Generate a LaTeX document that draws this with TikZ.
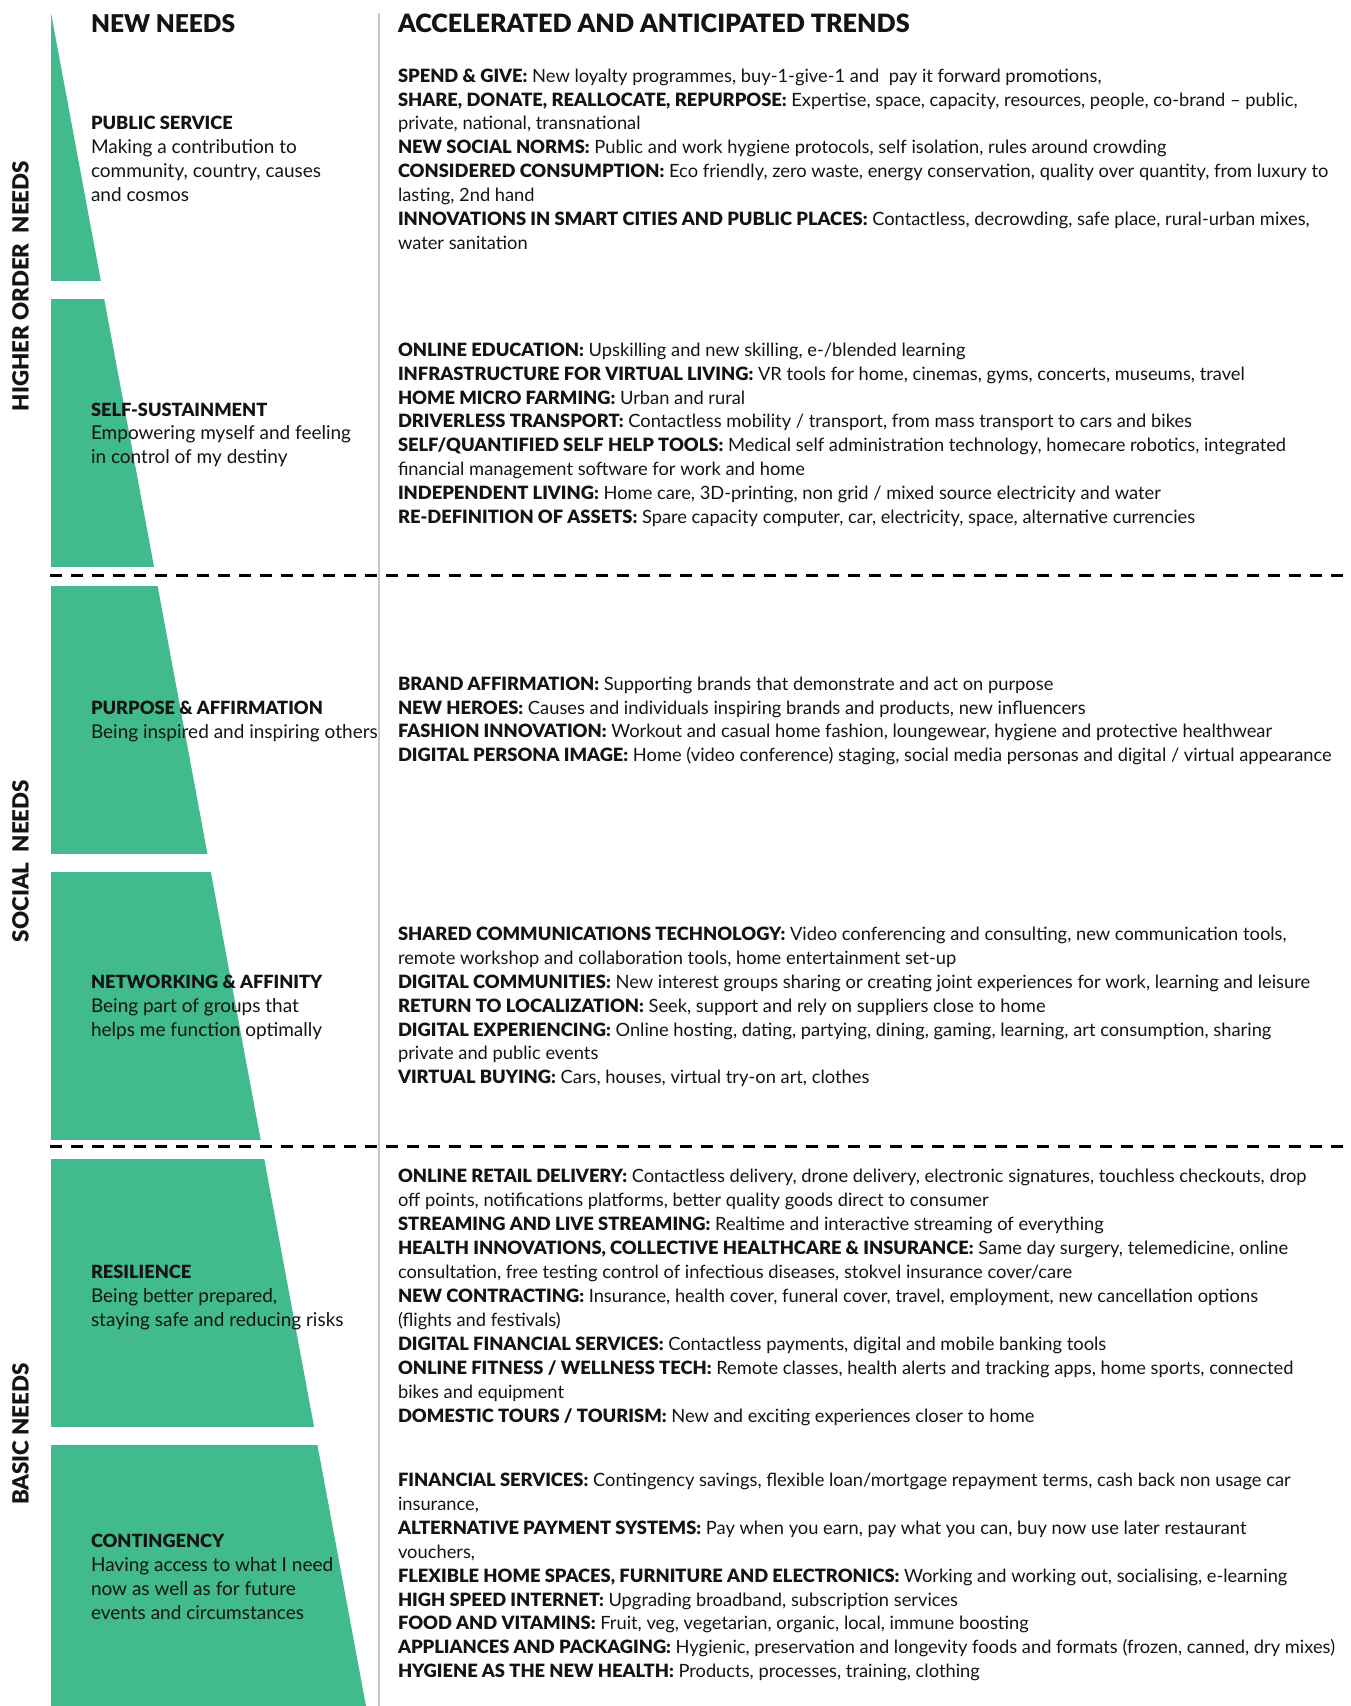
\documentclass[tikz,border=0pt]{standalone}
\usepackage{fontspec}
\setmainfont{Lato}[BoldFont={Lato Black}]
\definecolor{leaf}{HTML}{41BA8D}
\definecolor{ink}{HTML}{141414}
\definecolor{rule}{HTML}{C6C6C6}
% left-aligned stack of lines whose baseline is that of its first line
\newcommand{\linestack}[1]{\begin{tabular}[t]{@{}l@{}}#1\end{tabular}}
\begin{document}
\begin{tikzpicture}[x=1pt,y=-1pt,
  every node/.style={inner sep=0pt, outer sep=0pt, text=ink},
  head/.style={font=\fontsize{24.5}{30}\selectfont\bfseries, anchor=base west},
  side/.style={font=\fontsize{22.3}{28}\selectfont\bfseries, rotate=90},
  need/.style={font=\fontsize{19}{23.93}\selectfont, anchor=base west},
  needtitle/.style={font=\fontsize{18.4}{23.93}\selectfont\bfseries},
  trend/.style={font=\fontsize{18.3}{23.93}\selectfont, anchor=base west},
  divider/.style={line width=3pt, dash pattern=on 12pt off 9pt},
  column rule/.style={line width=2.5pt, draw=rule}]
\useasboundingbox (0,0) rectangle (1351,1706);
\fill[white] (0,0) rectangle (1351,1706);

% stepped wedge: one slanted edge cut into six blocks
\begin{scope}
  \clip (51,13) -- (366,1706) -- (51,1706) -- cycle;
  \foreach \k in {0,...,5}
    \fill[leaf] (40,{13+\k*286.4}) rectangle (400,{13+\k*286.4+268});
\end{scope}

% column rule and group dividers
\coordinate (ruletop) at (379,13);
\coordinate (rulebot) at (379,1706);
\draw[column rule] (ruletop) -- (rulebot);
\coordinate (d1a) at (50,575);   \coordinate (d1b) at (1345,575);
\coordinate (d2a) at (50,1146.5);\coordinate (d2b) at (1345,1146.5);
\draw[divider] (d1a) -- (d1b);
\draw[divider] (d2a) -- (d2b);

% headings
\node[head] (hneeds) at (91,32) {NEW NEEDS};
\node[head, font=\fontsize{25.2}{30}\selectfont\bfseries] (htrends) at (398,32) {ACCELERATED AND ANTICIPATED TRENDS};

% side labels
\node[side] (shigher) at (20.5,286) {HIGHER ORDER\ \ NEEDS};
\node[side] (ssocial) at (20.5,861) {SOCIAL\ \ NEEDS};
\node[side] (sbasic) at (20.5,1434) {BASIC NEEDS};

% needs
\newcommand{\needtitle}[1]{{\fontsize{18.2}{23.93}\selectfont\bfseries #1}}
\node[need] (n1) at (91,129.9) {\linestack{\needtitle{PUBLIC SERVICE}\\Making a contribution to\\community, country, causes\\and cosmos}};
\node[need] (n2) at (91,416) {\linestack{\needtitle{SELF-SUSTAINMENT}\\Empowering myself and feeling\\in control of my destiny}};
\node[need] (n3) at (91,714.1) {\linestack{\needtitle{PURPOSE \& AFFIRMATION}\\Being inspired and inspiring others}};
\node[need] (n4) at (91,988.2) {\linestack{\needtitle{NETWORKING \& AFFINITY}\\Being part of groups that\\helps me function optimally}};
\node[need] (n5) at (91,1278.6) {\linestack{\needtitle{RESILIENCE}\\Being better prepared,\\staying safe and reducing risks}};
\node[need] (n6) at (91,1547.3) {\linestack{\needtitle{CONTINGENCY}\\Having access to what I need\\now as well as for future\\events and circumstances}};

% trends
\node[trend] (t1) at (398,82.1) {\linestack{\textbf{SPEND \& GIVE:} New loyalty programmes, buy-1-give-1 and\ \ pay it forward promotions,\\
\textbf{SHARE, DONATE, REALLOCATE, REPURPOSE:} Expertise, space, capacity, resources, people, co-brand – public,\\
private, national, transnational\\
\textbf{NEW SOCIAL NORMS:} Public and work hygiene protocols, self isolation, rules around crowding\\
\textbf{CONSIDERED CONSUMPTION:} Eco friendly, zero waste, energy conservation, quality over quantity, from luxury to\\
lasting, 2nd hand\\
\textbf{INNOVATIONS IN SMART CITIES AND PUBLIC PLACES:} Contactless, decrowding, safe place, rural-urban mixes,\\
water sanitation}};

\node[trend] (t2) at (398,356.2) {\linestack{\textbf{ONLINE EDUCATION:} Upskilling and new skilling, e-/blended learning\\
\textbf{INFRASTRUCTURE FOR VIRTUAL LIVING:} VR tools for home, cinemas, gyms, concerts, museums, travel\\
\textbf{HOME MICRO FARMING:} Urban and rural\\
\textbf{DRIVERLESS TRANSPORT:} Contactless mobility / transport, from mass transport to cars and bikes\\
\textbf{SELF/QUANTIFIED SELF HELP TOOLS:} Medical self administration technology, homecare robotics, integrated\\
financial management software for work and home\\
\textbf{INDEPENDENT LIVING:} Home care, 3D-printing, non grid / mixed source electricity and water\\
\textbf{RE-DEFINITION OF ASSETS:} Spare capacity computer, car, electricity, space, alternative currencies}};

\node[trend] (t3) at (398,690.1) {\linestack{\textbf{BRAND AFFIRMATION:} Supporting brands that demonstrate and act on purpose\\
\textbf{NEW HEROES:} Causes and individuals inspiring brands and products, new influencers\\
\textbf{FASHION INNOVATION:} Workout and casual home fashion, loungewear, hygiene and protective healthwear\\
\textbf{DIGITAL PERSONA IMAGE:} Home (video conference) staging, social media personas and digital / virtual appearance}};

\node[trend] (t4) at (398,940.3) {\linestack{\textbf{SHARED COMMUNICATIONS TECHNOLOGY:} Video conferencing and consulting, new communication tools,\\
remote workshop and collaboration tools, home entertainment set-up\\
\textbf{DIGITAL COMMUNITIES:} New interest groups sharing or creating joint experiences for work, learning and leisure\\
\textbf{RETURN TO LOCALIZATION:} Seek, support and rely on suppliers close to home\\
\textbf{DIGITAL EXPERIENCING:} Online hosting, dating, partying, dining, gaming, learning, art consumption, sharing\\
private and public events\\
\textbf{VIRTUAL BUYING:} Cars, houses, virtual try-on art, clothes}};

\node[trend] (t5) at (398,1182.9) {\linestack{\textbf{ONLINE RETAIL DELIVERY:} Contactless delivery, drone delivery, electronic signatures, touchless checkouts, drop\\
off points, notifications platforms, better quality goods direct to consumer\\
\textbf{STREAMING AND LIVE STREAMING:} Realtime and interactive streaming of everything\\
\textbf{HEALTH INNOVATIONS, COLLECTIVE HEALTHCARE \& INSURANCE:} Same day surgery, telemedicine, online\\
consultation, free testing control of infectious diseases, stokvel insurance cover/care\\
\textbf{NEW CONTRACTING:} Insurance, health cover, funeral cover, travel, employment, new cancellation options\\
(flights and festivals)\\
\textbf{DIGITAL FINANCIAL SERVICES:} Contactless payments, digital and mobile banking tools\\
\textbf{ONLINE FITNESS / WELLNESS TECH:} Remote classes, health alerts and tracking apps, home sports, connected\\
bikes and equipment\\
\textbf{DOMESTIC TOURS / TOURISM:} New and exciting experiences closer to home}};

\node[trend] (t6) at (398,1486.4) {\linestack{\textbf{FINANCIAL SERVICES:} Contingency savings, flexible loan/mortgage repayment terms, cash back non usage car\\
insurance,\\
\textbf{ALTERNATIVE PAYMENT SYSTEMS:} Pay when you earn, pay what you can, buy now use later restaurant\\
vouchers,\\
\textbf{FLEXIBLE HOME SPACES, FURNITURE AND ELECTRONICS:} Working and working out, socialising, e-learning\\
\textbf{HIGH SPEED INTERNET:} Upgrading broadband, subscription services\\
\textbf{FOOD AND VITAMINS:} Fruit, veg, vegetarian, organic, local, immune boosting\\
\textbf{APPLIANCES AND PACKAGING:} Hygienic, preservation and longevity foods and formats (frozen, canned, dry mixes)\\
\textbf{HYGIENE AS THE NEW HEALTH:} Products, processes, training, clothing}};
\end{tikzpicture}
\end{document}
